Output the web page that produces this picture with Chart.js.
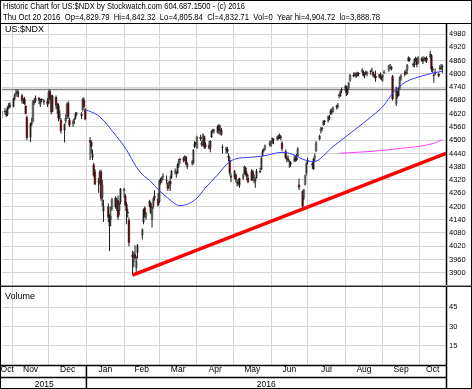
<!DOCTYPE html>
<html lang="en">
  <head>
    <meta charset="UTF-8" />
    <title>Historic Chart for US:$NDX</title>
    <style>
      html, body { margin: 0; padding: 0; background: #fff; }
      canvas { display: block; }
    </style>
  </head>
  <body>
    <canvas id="myChart" width="472" height="389"></canvas>

    <script src="https://cdn.jsdelivr.net/npm/chart.js"></script>
    <script>
      // trading days: weekdays from firstDay to lastDay, minus market holidays
      const firstDay = "2015-10-23";
      const lastDay = "2016-10-20";
      const axisEnd = "2016-10-23";
      const holidays = ["2015-11-26", "2015-12-25", "2016-01-01", "2016-01-18", "2016-02-15",
                        "2016-03-25", "2016-05-30", "2016-07-04", "2016-09-05"];

      // daily OHLC, one line per month (Oct 2015 .. Oct 2016)
      const opens = [
        4600,4630,4625,4615,4646,4662,
        4652,4688,4708,4714,4712,4704,4674,4688,4656,4606,4512,4580,4586,4674,4678,4692,4662,4682,4680,4676,
        4668,4722,4692,4630,4696,4640,4656,4604,4592,4546,4586,4610,4668,4594,4574,4590,4602,4620,4610,4636,4682,4640,
        4500,4492,4420,4390,4360,4310,4330,4360,4240,4180,4200,4110,4140,4190,4238,4200,4230,4180,4220,
        4270,4250,4210,4170,4140,3980,3950,3985,3920,3990,4070,4130,4195,4150,4200,4215,4140,4200,4250,4236,
        4220,4316,4320,4336,4320,4300,4290,4316,4330,4355,4350,4352,4385,4410,4408,4412,4425,4380,4398,4395,4470,4485,
        4465,4515,4490,4480,4518,4480,4478,4462,4515,4540,4545,4535,4568,4545,4548,4470,4462,4460,4430,4410,4340,
        4335,4345,4310,4310,4295,4330,4350,4375,4350,4330,4320,4360,4320,4320,4330,4362,4370,4430,4452,4462,4478,
        4482,4495,4500,4505,4515,4510,4518,4490,4450,4420,4418,4400,4400,4410,4410,4422,4430,4300,4270,4240,4300,4350,
        4400,4395,4370,4420,4450,4505,4540,4555,4570,4588,4585,4600,4620,4632,4630,4650,4650,4700,4700,4722,
        4735,4745,4712,4735,4770,4795,4792,4800,4795,4800,4808,4810,4795,4800,4800,4808,4815,4810,4790,4792,4785,4800,4782,
        4786,4805,4815,4838,4832,4790,4665,4720,4702,4735,4785,4800,4810,4815,4860,4870,4845,4840,4868,4870,4850,
        4870,4868,4862,4868,4872,4875,4885,4825,4790,4810,4800,4830,4825,4829.79
      ];
      const highs = [
        4642,4645,4638,4652,4668,4672,
        4692,4712,4731,4728,4725,4710,4690,4696,4662,4612,4580,4602,4682,4690,4702,4696,4686,4690,4686,4690,
        4726,4731,4706,4706,4702,4668,4666,4636,4600,4576,4616,4670,4676,4602,4592,4602,4626,4628,4626,4692,4694,4646,
        4514,4500,4458,4398,4370,4330,4364,4366,4320,4230,4214,4165,4200,4240,4246,4240,4250,4220,4284,
        4285,4256,4220,4190,4150,4000,3995,4025,3975,4030,4100,4190,4200,4175,4230,4220,4200,4240,4272,4262,
        4320,4330,4336,4350,4340,4310,4316,4340,4365,4372,4360,4395,4415,4420,4425,4432,4428,4400,4410,4460,4495,4492,
        4520,4525,4500,4530,4520,4490,4496,4500,4545,4552,4552,4566,4572,4570,4556,4480,4470,4470,4440,4425,4350,
        4365,4350,4322,4325,4330,4350,4385,4380,4360,4345,4370,4365,4345,4330,4370,4375,4425,4458,4465,4480,4496,
        4500,4512,4508,4520,4525,4530,4522,4495,4458,4428,4432,4412,4405,4432,4428,4438,4468,4325,4272,4280,4345,4400,
        4420,4400,4420,4440,4495,4525,4560,4560,4590,4592,4612,4615,4640,4645,4652,4660,4668,4712,4725,4738,
        4750,4748,4735,4765,4800,4806,4808,4806,4810,4808,4826,4815,4806,4815,4812,4818,4828,4812,4800,4815,4800,4806,4790,
        4798,4818,4840,4845,4836,4795,4742,4725,4740,4790,4800,4815,4820,4845,4880,4875,4852,4870,4878,4872,4880,
        4875,4880,4878,4876,4880,4904.72,4890,4835,4800,4825,4808,4840,4845,4842.32
      ];
      const lows = [
        4590,4618,4605,4610,4640,4645,
        4648,4680,4698,4696,4694,4666,4664,4660,4616,4500,4492,4564,4580,4660,4668,4664,4650,4672,4660,4650,
        4664,4682,4616,4626,4640,4620,4586,4594,4530,4490,4576,4596,4598,4560,4560,4572,4596,4612,4596,4630,4646,4590,
        4410,4440,4410,4335,4296,4262,4300,4226,4200,4130,4130,3998,4110,4180,4190,4180,4140,4160,4210,
        4240,4200,4120,4150,4020,3888.78,3925,3960,3900,3965,4050,4120,4150,4140,4195,4165,4105,4190,4226,4200,
        4215,4300,4306,4318,4300,4270,4280,4270,4325,4345,4330,4346,4375,4395,4400,4405,4385,4370,4385,4390,4465,4475,
        4460,4498,4470,4475,4460,4462,4458,4446,4510,4532,4530,4530,4528,4525,4520,4440,4440,4440,4405,4340,4310,
        4325,4310,4290,4295,4285,4320,4345,4340,4320,4305,4315,4315,4305,4285,4325,4350,4365,4425,4445,4455,4470,
        4470,4485,4482,4498,4502,4505,4500,4450,4415,4400,4402,4375,4380,4400,4402,4405,4425,4275,4194,4230,4295,4340,
        4390,4370,4365,4405,4445,4500,4530,4540,4565,4570,4580,4592,4615,4615,4625,4640,4642,4690,4695,4712,
        4722,4700,4705,4730,4765,4785,4788,4782,4788,4790,4804,4788,4780,4795,4790,4795,4810,4785,4780,4765,4780,4775,4770,
        4765,4800,4810,4825,4815,4680,4655,4690,4698,4730,4770,4790,4795,4800,4855,4855,4830,4830,4855,4830,4845,
        4855,4845,4858,4855,4850,4870,4810,4805,4760,4795,4785,4815,4818,4805.84
      ];
      const closes = [
        4632,4628,4612,4648,4660,4650,
        4688,4706,4712,4716,4710,4676,4686,4664,4620,4510,4576,4574,4676,4670,4692,4680,4680,4682,4672,4660,
        4720,4688,4626,4700,4656,4660,4600,4620,4540,4572,4600,4664,4606,4566,4586,4596,4620,4616,4620,4686,4650,4594,
        4490,4470,4440,4340,4300,4316,4356,4236,4300,4200,4150,4138,4158,4232,4196,4232,4150,4210,4280,
        4278,4206,4180,4170,4035,3970,3955,3965,3955,4025,4096,4185,4160,4170,4225,4170,4196,4236,4236,4204,
        4316,4326,4330,4334,4316,4280,4310,4300,4360,4362,4355,4390,4405,4410,4420,4428,4390,4395,4400,4455,4485,4483,
        4515,4505,4476,4526,4468,4470,4462,4496,4540,4545,4540,4562,4540,4548,4525,4466,4456,4448,4420,4350,4330,
        4360,4320,4305,4302,4328,4344,4380,4345,4335,4310,4360,4322,4335,4315,4362,4355,4420,4450,4460,4476,4490,
        4496,4510,4500,4512,4508,4525,4510,4460,4420,4412,4408,4408,4390,4408,4420,4410,4462,4285,4200,4275,4340,4395,
        4410,4385,4415,4430,4490,4520,4552,4550,4585,4582,4608,4605,4635,4625,4648,4652,4660,4700,4722,4730,
        4742,4712,4732,4760,4795,4790,4800,4788,4805,4802,4818,4792,4800,4810,4808,4812,4815,4792,4788,4780,4796,4785,4786,
        4794,4810,4838,4838,4820,4685,4738,4700,4730,4785,4790,4798,4800,4840,4872,4862,4838,4865,4872,4840,4875,
        4862,4855,4872,4870,4862,4892,4822,4815,4795,4800,4790,4822,4830,4832.71
      ];

      // moving averages
      const ma50Days = ["2015-12-31","2016-01-05","2016-01-12","2016-01-26","2016-02-03","2016-02-11","2016-02-16",
        "2016-02-22","2016-03-01","2016-03-08","2016-03-14","2016-03-17","2016-03-24","2016-04-01","2016-04-08",
        "2016-04-18","2016-04-26","2016-05-02","2016-05-16","2016-05-26","2016-06-10","2016-06-20","2016-06-27",
        "2016-07-06","2016-07-22","2016-08-05","2016-08-19","2016-09-02","2016-09-09","2016-09-20","2016-10-03",
        "2016-10-13","2016-10-20"];
      const ma50 = [4637,4628,4606,4516,4456,4380,4345,4318,4272,4238,4212,4204,4210,4238,4285,4343,4393,4414,
        4423,4429,4445,4433,4414,4403,4471,4531,4591,4659,4712,4764,4790,4805,4812];
      const ma200Days = ["2016-07-27","2016-08-19","2016-09-16","2016-10-13","2016-10-20"];
      const ma200 = [4441,4448,4463,4486,4503];

      // drawn lines
      const trendDays = ["2016-02-08", "2016-10-23"];
      const trendValues = [3889, 4440];
      const levelDays = ["2015-10-23", "2016-10-23"];
      const levelValues = [4730, 4730];

      const priceTicks = [3900,3960,4020,4080,4140,4200,4260,4320,4380,4440,4500,4560,4620,4680,4740,4800,4860,4920,4980];
      const volumeTicks = [15, 30, 45];
      const monthStarts = ["2015-10-01","2015-11-01","2015-12-01","2016-01-01","2016-02-01","2016-03-01","2016-04-01",
        "2016-05-01","2016-06-01","2016-07-01","2016-08-01","2016-09-01","2016-10-01","2016-11-01"];
      const monthLabels = ["Oct","Nov","Dec","Jan","Feb","Mar","Apr","May","Jun","Jul","Aug","Sep","Oct"];
      const yearStarts = ["2015-01-01", "2016-01-01", "2017-01-01"];
      const yearLabels = ["2015", "2016"];

      const family = "'Liberation Sans Narrow', 'Arial Narrow', 'Liberation Sans', Arial, sans-serif";
      Chart.defaults.font.family = family;
      Chart.defaults.color = "#000";

      const DAY = 86400000;
      const t0 = Date.parse("2015-11-01");
      const dayOf = (s) => (Date.parse(s) - t0) / DAY;

      const days = [];
      for (let t = Date.parse(firstDay); t <= Date.parse(lastDay); t += DAY) {
        const d = new Date(t);
        const s = d.toISOString().slice(0, 10);
        if (d.getUTCDay() > 0 && d.getUTCDay() < 6 && !holidays.includes(s)) days.push(s);
      }
      if (days.length !== closes.length) console.warn("day count", days.length, closes.length);

      const xMin = dayOf(firstDay) + 0.5;
      const xMax = dayOf(axisEnd);
      const clampMid = (a, b) => (Math.max(a, xMin) + Math.min(b, xMax)) / 2;
      const gridDays = monthStarts.map(dayOf).filter((v) => v > xMin && v < xMax);
      const monthMid = monthLabels.map((_, i) => clampMid(dayOf(monthStarts[i]), dayOf(monthStarts[i + 1])));
      const yearMid = yearLabels.map((_, i) => clampMid(dayOf(yearStarts[i]), dayOf(yearStarts[i + 1])));

      const money = (v) => v.toLocaleString("en-US", { minimumFractionDigits: 2, maximumFractionDigits: 2 });
      const n = closes.length - 1;
      const header = [
        "Historic Chart for US:$NDX by Stockwatch.com 604.687.1500 - (c) 2016",
        "Thu Oct 20 2016  Op=" + money(opens[n]) + "  Hi=" + money(highs[n]) + "  Lo=" + money(lows[n]) +
          "  Cl=" + money(closes[n]) + "  Vol=0  Year hi=" + money(Math.max(...highs)) + "  lo=" + money(Math.min(...lows))
      ];

      const fitText = (ctx, text, x, y, width) => {
        const w = ctx.measureText(text).width;
        ctx.save();
        ctx.translate(x, y);
        ctx.scale(width / w, 1);
        ctx.fillText(text, 0, 0);
        ctx.restore();
      };

      const frame = {
        id: "frame",
        afterDraw(chart) {
          const { ctx, chartArea: a, scales } = chart;
          const W = chart.width, H = chart.height;
          const line = (x1, y1, x2, y2, w, c) => {
            ctx.beginPath();
            ctx.lineWidth = w;
            ctx.strokeStyle = c;
            ctx.moveTo(x1, y1);
            ctx.lineTo(x2, y2);
            ctx.stroke();
          };
          ctx.save();
          ctx.fillStyle = "#000";
          ctx.font = "8.5px " + family;
          fitText(ctx, header[0], 3, 9, 242);
          fitText(ctx, header[1], 3, 20, 377);
          ctx.font = "9px " + family;
          ctx.fillText("US:$NDX", a.left + 3, a.top + 8);
          ctx.fillText("Volume", a.left + 3, scales.yv.top + 13);

          line(0, 23.5, W, 23.5, 1, "#000");
          line(a.right + 0.5, 23.5, a.right + 0.5, H, 1.5, "#000");
          const yb = scales.y.bottom;
          line(0, yb - 0.5, W, yb - 0.5, 1, "#999");
          line(0, yb + 0.5, W, yb + 0.5, 1, "#222");
          const xm = scales.xm;
          line(0, xm.top + 0.5, a.right, xm.top + 0.5, 1.5, "#000");
          line(0, xm.bottom + 0.5, a.right, xm.bottom + 0.5, 1.5, "#000");
          const xj = scales.x.getPixelForValue(dayOf("2016-01-01"));
          line(xj, xm.top, xj, H, 1.5, "#000");
          ctx.lineWidth = 1;
          ctx.strokeStyle = "#000";
          ctx.strokeRect(0.5, 0.5, W - 1, H - 1);
          ctx.restore();
        },
      };

      const pts = (ds, vs) => ds.map((d, i) => ({ x: dayOf(d), y: vs[i] }));
      const lineSet = (data, color, width, order) => ({
        type: "line", data, borderColor: color, borderWidth: width, pointRadius: 0,
        cubicInterpolationMode: "monotone", yAxisID: "y", order,
      });
      const noPad = (s) => { s.paddingLeft = s.paddingRight = s.paddingTop = s.paddingBottom = 0; };

      const ctx = document.getElementById("myChart");
      const myChart = new Chart(ctx, {
        type: "bar",
        data: {
          datasets: [
            lineSet(pts(ma50Days, ma50), "#3838ff", 1, 0),
            lineSet(pts(ma200Days, ma200), "#ff3cff", 1, 0),
            lineSet(pts(trendDays, trendValues), "#ff0000", 3.5, 0),
            lineSet(pts(levelDays, levelValues), "#888888", 1.5, 3),
            {
              label: "range",
              data: days.map((d, i) => ({ x: dayOf(d), y: [lows[i], highs[i]] })),
              backgroundColor: "#1a1a1a",
              barThickness: 1, grouped: false, inflateAmount: 0, yAxisID: "y", order: 1,
            },
            {
              label: "body",
              data: days.map((d, i) => ({ x: dayOf(d), y: [opens[i], closes[i]] })),
              backgroundColor: days.map((d, i) => (closes[i] < opens[i] ? "#b00000" : "#b0b0b0")),
              borderColor: "#333333", borderWidth: 0.5, borderSkipped: false,
              barThickness: 2.8, grouped: false, minBarLength: 1, inflateAmount: 0, yAxisID: "y", order: 2,
            },
          ],
        },
        options: {
          responsive: false,
          animation: false,
          devicePixelRatio: 1,
          layout: { padding: { top: 24, left: 2, right: 0, bottom: 0 } },
          plugins: { legend: { display: false }, tooltip: { enabled: false } },
          scales: {
            x: {
              type: "linear", min: xMin, max: xMax, weight: 0, offset: false,
              afterBuildTicks: (s) => { s.ticks = gridDays.map((v) => ({ value: v })); },
              ticks: { display: false, autoSkip: false, callback: () => "" },
              grid: { color: "#d4d4d4", drawTicks: false, offset: false },
              border: { display: false },
              afterFit: (s) => { s.height = 0; noPad(s); },
            },
            xm: {
              type: "linear", position: "bottom", min: xMin, max: xMax, weight: 1, offset: false,
              afterBuildTicks: (s) => { s.ticks = monthMid.map((v) => ({ value: v })); },
              ticks: { autoSkip: false, maxRotation: 0, padding: 0, font: { size: 8.5 }, callback: (v, i) => monthLabels[i] },
              grid: { display: false, drawTicks: false, offset: false },
              border: { display: false },
              afterFit: (s) => { s.height = 12; noPad(s); },
            },
            xy: {
              type: "linear", position: "bottom", min: xMin, max: xMax, weight: 2, offset: false,
              afterBuildTicks: (s) => { s.ticks = yearMid.map((v) => ({ value: v })); },
              ticks: { autoSkip: false, maxRotation: 0, padding: 3, font: { size: 8.5 }, callback: (v, i) => yearLabels[i] },
              grid: { display: false, drawTicks: false, offset: false },
              border: { display: false },
              afterFit: (s) => { s.height = 12; noPad(s); },
            },
            y: {
              type: "linear", position: "right", stack: "panels", stackWeight: 262, weight: 0,
              min: 3840, max: 5026,
              afterBuildTicks: (s) => { s.ticks = priceTicks.map((v) => ({ value: v })); },
              ticks: { padding: 3, autoSkip: false, font: { size: 7.5 }, callback: (v) => String(v) },
              grid: { color: "#d4d4d4", drawTicks: false },
              border: { display: false },
              afterFit: (s) => { s.width = 26; noPad(s); },
            },
            yv: {
              type: "linear", position: "right", stack: "panels", stackWeight: 79, weight: 1,
              min: 0, max: 61.5,
              afterBuildTicks: (s) => { s.ticks = volumeTicks.map((v) => ({ value: v })); },
              ticks: { padding: 3, autoSkip: false, font: { size: 7.5 }, callback: (v) => String(v) },
              grid: { color: "#d4d4d4", drawTicks: false },
              border: { display: false },
              afterFit: (s) => { s.width = 26; noPad(s); },
            },
          },
        },
        plugins: [frame],
      });
    </script>
  </body>
</html>
